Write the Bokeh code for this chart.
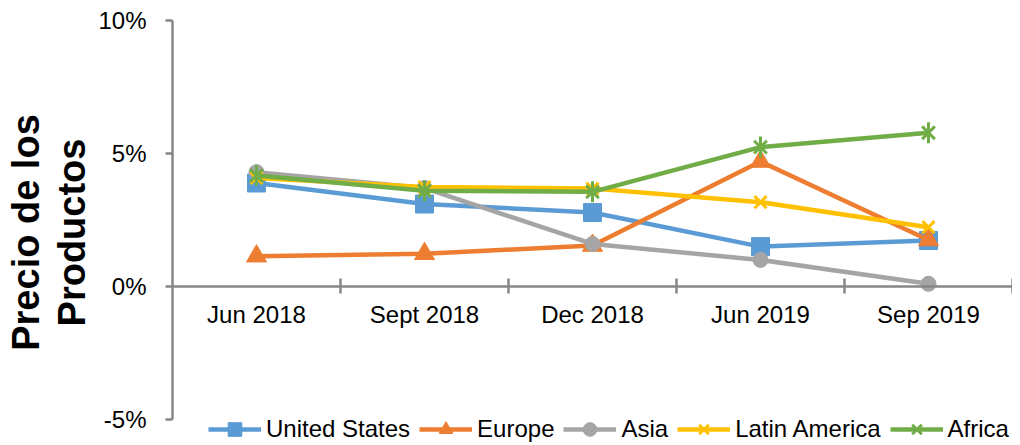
import math
from bokeh.plotting import figure
from bokeh.models import Range1d, FixedTicker, PrintfTickFormatter, Legend, LegendItem, Title
from bokeh.embed import file_html
from bokeh.resources import INLINE

categories = ["Jun 2018", "Sept 2018", "Dec 2018", "Jun 2019", "Sep 2019"]
united_states = [3.89, 3.10, 2.78, 1.50, 1.73]
europe = [1.14, 1.23, 1.54, 4.70, 1.75]
asia = [4.30, 3.70, 1.60, 1.00, 0.10]
latin_america = [4.08, 3.74, 3.68, 3.17, 2.23]
africa = [4.17, 3.60, 3.56, 5.24, 5.78]
y_ticks = [-5, 0, 5, 10]
y_title = ["Precio de los", "Productos"]

FONT = "Liberation Sans"
AXIS_GRAY = "#868686"

xs = list(range(len(categories)))

# frame spans the legend area too; the y axis itself is bounded to -5..10
p = figure(width=1012, height=444, output_backend="svg", toolbar_location=None,
           x_range=Range1d(-0.5, len(categories) - 0.5), y_range=Range1d(-5.94, 10),
           min_border_left=172, min_border_right=0, min_border_top=20, min_border_bottom=0)
p.outline_line_color = None
p.xgrid.visible = False
p.ygrid.visible = False
p.background_fill_color = "white"
p.border_fill_color = "white"

xa = p.xaxis[0]
xa.fixed_location = 0
xa.ticker = FixedTicker(ticks=xs, minor_ticks=[i + 0.5 for i in xs])
xa.major_label_overrides = {i: c for i, c in zip(xs, categories)}
xa.major_tick_in = 0
xa.major_tick_out = 0
xa.minor_tick_in = 8
xa.minor_tick_out = 7
xa.minor_tick_line_color = AXIS_GRAY
xa.minor_tick_line_width = 2.5
xa.axis_line_color = AXIS_GRAY
xa.axis_line_width = 2.5
xa.major_label_text_font = FONT
xa.major_label_text_font_size = "24px"
xa.major_label_text_color = "black"
xa.major_label_standoff = 8

ya = p.yaxis[0]
ya.bounds = (y_ticks[0], y_ticks[-1])
ya.ticker = FixedTicker(ticks=y_ticks, minor_ticks=[])
ya.formatter = PrintfTickFormatter(format="%d%%")
ya.major_tick_in = 0
ya.major_tick_out = 7
ya.major_tick_line_color = AXIS_GRAY
ya.major_tick_line_width = 2.5
ya.axis_line_color = AXIS_GRAY
ya.axis_line_width = 2.5
ya.major_label_text_font = FONT
ya.major_label_text_font_size = "24px"
ya.major_label_text_color = "black"
ya.major_label_standoff = 19

series = [
    ("United States", united_states, "#5B9BD5", "square", 18),
    ("Europe", europe, "#ED7D31", "triangle", 20),
    ("Asia", asia, "#A5A5A5", "circle", 15),
    ("Latin America", latin_america, "#FFC000", "x", 17),
    ("Africa", africa, "#70AD47", "x", 18),
]

items = []
for name, vals, color, marker, size in series:
    r_line = p.line(xs, vals, line_color=color, line_width=4.5)
    if marker == "x":
        r_m = p.scatter(xs, vals, marker=marker, size=size, line_color=color, line_width=3)
        rs = [r_line, r_m]
        if name == "Africa":
            r_v = p.scatter(xs, vals, marker="dash", angle=math.pi / 2, size=size + 3,
                            line_color=color, line_width=3)
            rs.append(r_v)
    else:
        r_m = p.scatter(xs, vals, marker=marker, size=size, fill_color=color,
                        line_color=color, line_width=1)
        rs = [r_line, r_m]
    items.append(LegendItem(label=name, renderers=rs))

legend = Legend(items=items, orientation="horizontal", location=(36, -2),
                border_line_color=None, background_fill_alpha=0,
                padding=0, margin=0, spacing=9, label_standoff=5,
                glyph_width=53, glyph_height=34,
                label_text_font=FONT, label_text_font_size="24px",
                label_text_color="black")
p.add_layout(legend, "center")

for txt, so in ((y_title[1], 5), (y_title[0], 0)):
    p.add_layout(Title(text=txt, align="center", offset=8, standoff=so,
                       text_font=FONT, text_font_size="38px", text_font_style="bold",
                       text_color="black"), "left")

open("out.html", "w").write(file_html(p, INLINE))
